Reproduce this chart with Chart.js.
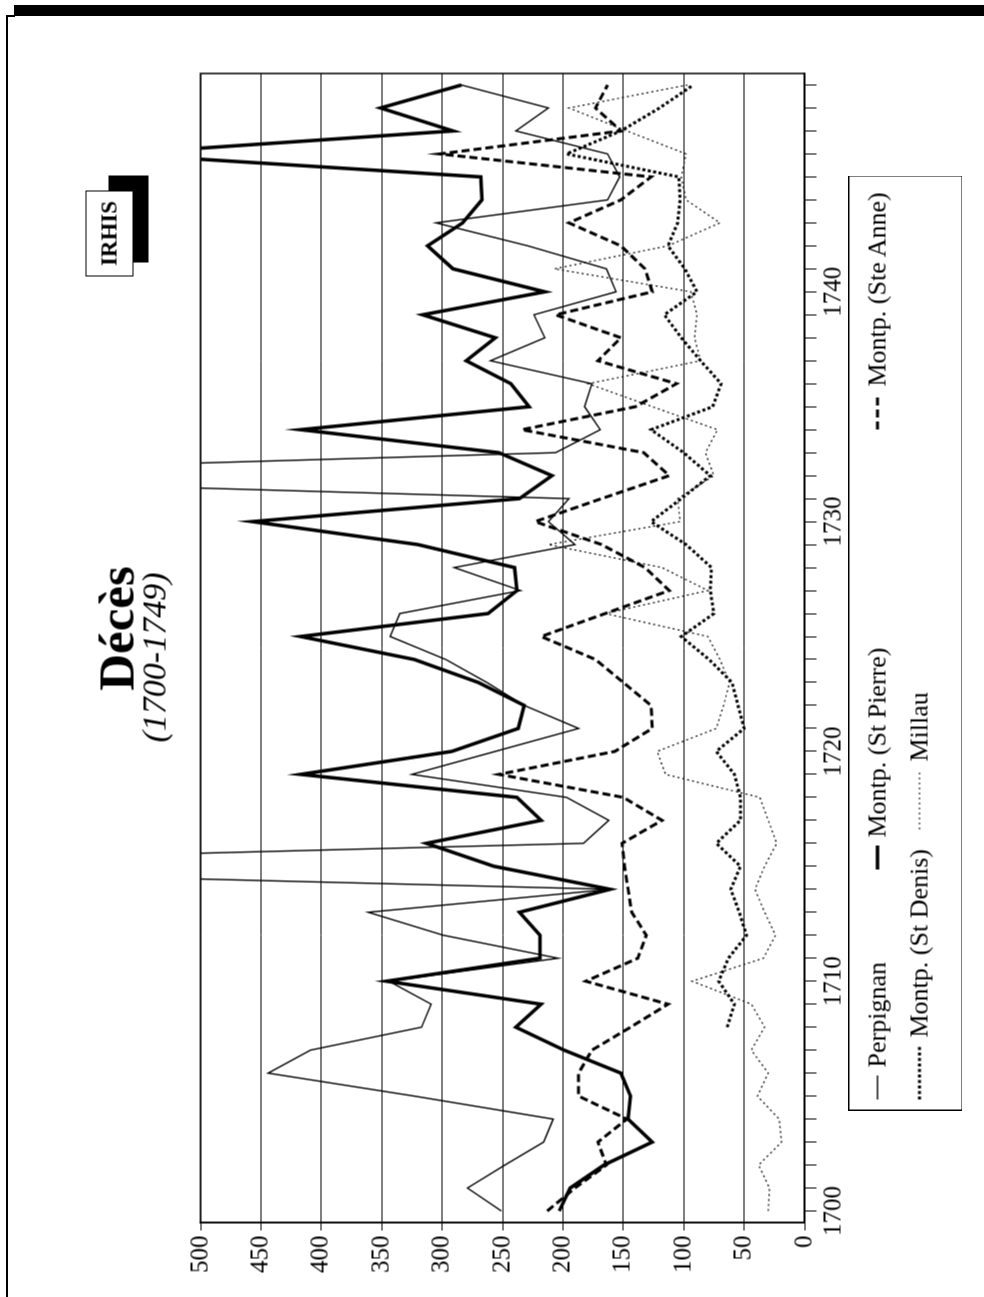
<!DOCTYPE html>
<html>
<head>
<meta charset="utf-8">
<script src="https://cdn.jsdelivr.net/npm/chart.js@4.4.1/dist/chart.umd.min.js"></script>
<style>
  html, body { margin: 0; padding: 0; background: #fff; }
  body { width: 984px; height: 1297px; position: relative; overflow: hidden;
         font-family: "Liberation Serif", "Times New Roman", serif; color: #000; }
  /* the whole sheet is turned a quarter turn to the left */
  #frame { position: absolute; left: -156.5px; top: 156.5px; width: 1297px; height: 984px;
           transform: rotate(-90deg); }
  #chart { position: absolute; left: 0; top: 0; }
  .txt { position: absolute; white-space: nowrap; line-height: 1; transform: translateX(-50%); }
  #legend { position: absolute; left: 187px; top: 848px; width: 935px; height: 114px;
            border: 1.5px solid #000; box-sizing: border-box; }
  .item { position: absolute; height: 30px; display: flex; align-items: center;
          font-size: 26px; white-space: nowrap; }
  .item svg { display: block; }
  #shadow { position: absolute; left: 1035px; top: 108px; width: 87px; height: 40px; background: #000; }
  #logo { position: absolute; left: 1021px; top: 85px; width: 86px; height: 48px; background: #fff;
          border: 1.5px solid #000; box-sizing: border-box; display: flex; align-items: center;
          justify-content: center; font-weight: bold; font-size: 23px; }
  .rule { position: absolute; background: #000; }
</style>
</head>
<body>
<div class="rule" style="left:14px;top:5px;width:970px;height:11px"></div>
<div class="rule" style="left:6px;top:15px;width:9px;height:1.5px"></div>
<div class="rule" style="left:6px;top:15px;width:1.5px;height:1282px"></div>

<div id="frame">
  <canvas id="chart" width="1297" height="984"></canvas>
  <div class="txt" style="left:669px;top:91px;font-size:51px;font-weight:bold">Décès</div>
  <div class="txt" style="left:640px;top:137px;font-size:34px;font-style:italic">(1700-1749)</div>
  <div id="shadow"></div>
  <div id="logo">IRHIS</div>
  <div id="legend"></div>
</div>

<script>
// Years along the category axis
const years = [1700, 1701, 1702, 1703, 1704, 1705, 1706, 1707, 1708, 1709,
               1710, 1711, 1712, 1713, 1714, 1715, 1716, 1717, 1718, 1719,
               1720, 1721, 1722, 1723, 1724, 1725, 1726, 1727, 1728, 1729,
               1730, 1731, 1732, 1733, 1734, 1735, 1736, 1737, 1738, 1739,
               1740, 1741, 1742, 1743, 1744, 1745, 1746, 1747, 1748, 1749];

// Deaths per year
const perpignan = [251, 279, 248, 216, 208, 323, 444, 409, 317, 309,
                   344, 204, 299, 361, 161, 920, 183, 162, 197, 325,
                   256, 187, 232, 263, 297, 343, 335, 235, 290, 190,
                   212, 195, 860, 206, 169, 182, 176, 260, 215, 224,
                   156, 164, 229, 305, 163, 153, 163, 239, 212, 284];

const stPierre = [203, 194, 166, 126, 146, 144, 152, 199, 239, 218,
                  346, 219, 219, 236, 161, 257, 313, 218, 238, 417,
                  292, 237, 232, 270, 323, 417, 262, 238, 240, 320,
                  457, 236, 209, 253, 417, 228, 243, 280, 256, 316,
                  215, 291, 312, 283, 267, 268, 570, 291, 351, 284];

const steAnne = [213, 190, 164, 171, 147, 187, 187, 176, 144, 113,
                 181, 138, 131, 143, 146, 149, 151, 118, 150, 253,
                 157, 126, 127, 150, 173, 218, 165, 112, 132, 168,
                 223, 168, 112, 133, 234, 140, 106, 171, 152, 206,
                 126, 132, 152, 195, 152, 127, 302, 152, 173, 163];

const stDenis = [null, null, null, null, null, null, null, null, 64, 58,
                 71, 63, 48, 54, 61, 53, 73, 53, 53, 58,
                 73, 50, 55, 60, 79, 102, 75, 78, 77, 98,
                 127, 102, 78, 100, 127, 76, 69, 86, 102, 116,
                 89, 99, 113, 105, 103, 104, 197, 152, 120, 92];

const millau = [30, 29, 38, 19, 21, 39, 30, 44, 33, 44,
                93, 34, 24, 33, 41, 33, 23, 30, 37, 115,
                122, 73, 67, 62, 70, 80, 165, 80, 118, 212,
                103, 105, 75, 82, 72, 126, 179, 86, 91, 89,
                94, 207, 113, 70, 98, 102, 98, 147, 195, 97];

const seriesNames = ['Perpignan', 'Montp. (St Pierre)', 'Montp. (Ste Anne)', 'Montp. (St Denis)', 'Millau'];

const serif = '"Liberation Serif", "Times New Roman", serif';

// Line looks for each series
const looks = [
  { width: 1.4, dash: [] },
  { width: 3.5, dash: [] },
  { width: 3, dash: [8, 4] },
  { width: 3, dash: [3, 2.5] },
  { width: 1.2, dash: [2, 3] }
];

// Where each legend entry sits inside the legend box
const legendSpots = [
  { left: 10, top: 13, sym: 24, gap: 8 },
  { left: 240, top: 13, sym: 24, gap: 8 },
  { left: 680, top: 13, sym: 33, gap: 10 },
  { left: 10, top: 55, sym: 55, gap: 7 },
  { left: 280, top: 55, sym: 58, gap: 10 }
];

const seriesValues = [perpignan, stPierre, steAnne, stDenis, millau];

// Draw a box round the plot area.
const plotBox = {
  id: 'plotBox',
  afterDraw(chart) {
    const a = chart.chartArea;
    const ctx = chart.ctx;
    ctx.save();
    ctx.strokeStyle = '#000';
    ctx.lineWidth = 1.5;
    ctx.strokeRect(a.left, a.top, a.right - a.left, a.bottom - a.top);
    ctx.restore();
  }
};

const chart = new Chart(document.getElementById('chart'), {
  type: 'line',
  data: {
    labels: years,
    datasets: seriesValues.map((vals, i) => ({
      label: seriesNames[i],
      data: vals,
      borderColor: '#000',
      borderWidth: looks[i].width,
      borderDash: looks[i].dash,
      pointRadius: 0,
      tension: 0,
      fill: false,
      spanGaps: false
    }))
  },
  options: {
    responsive: false,
    animation: false,
    layout: { padding: { left: 13, right: 73, top: 200, bottom: 120 } },
    plugins: { legend: { display: false }, tooltip: { enabled: false } },
    scales: {
      x: {
        type: 'category',
        offset: true,
        grid: { drawOnChartArea: false, drawTicks: true, tickLength: 12, color: '#000', lineWidth: 1 },
        border: { color: '#000', width: 1.5 },
        ticks: {
          autoSkip: false, maxRotation: 0, minRotation: 0, padding: 2,
          color: '#000', font: { family: serif, size: 25 },
          callback: (v, i) => (years[i] % 10 === 0 ? String(years[i]) : '')
        },
        afterFit: s => { s.height = 60; }
      },
      y: {
        min: 0, max: 500,
        grid: { color: '#000', lineWidth: 1, tickLength: 8 },
        border: { color: '#000', width: 1.5 },
        ticks: { stepSize: 50, padding: 5, color: '#000', font: { family: serif, size: 25 } },
        afterFit: s => { s.width = 62; }
      }
    }
  },
  plugins: [plotBox]
});

// Legend, built from the series names and line looks.
const legend = document.getElementById('legend');
seriesNames.forEach((name, i) => {
  const spot = legendSpots[i];
  const item = document.createElement('div');
  item.className = 'item';
  item.style.left = spot.left + 'px';
  item.style.top = spot.top + 'px';
  const dash = looks[i].dash.length ? looks[i].dash.join(',') : 'none';
  item.innerHTML =
    '<svg width="' + spot.sym + '" height="8"><line x1="0" y1="4" x2="' + spot.sym + '" y2="4" stroke="#000" stroke-width="' +
    looks[i].width + '" stroke-dasharray="' + dash + '"/></svg>' +
    '<span style="margin-left:' + spot.gap + 'px">' + name + '</span>';
  legend.appendChild(item);
});
</script>
</body>
</html>
